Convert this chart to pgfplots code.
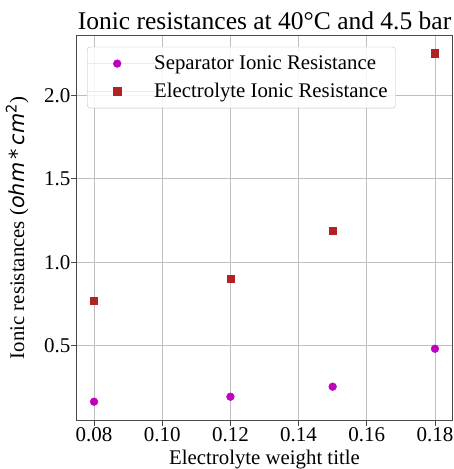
\documentclass[border=0pt]{standalone}
\usepackage{pgfplots}
\pgfplotsset{compat=1.18}
\usepackage{fontspec}
\setmainfont{Liberation Serif}
\newfontfamily\djv{DejaVu Sans}
\definecolor{sepc}{HTML}{BF00BF}
\definecolor{elc}{HTML}{B22222}
\definecolor{axc}{HTML}{4A4A4A}
\begin{document}
\begin{tikzpicture}
\begin{axis}[
  scale only axis, width=375pt, height=384pt,
  xmin=0.075, xmax=0.185, ymin=0.0555, ymax=2.3545,
  xtick={0.08,0.10,0.12,0.14,0.16,0.18},
  ytick={0.5,1.0,1.5,2.0},
  tick label style={font=\fontsize{21}{24}\selectfont},
  xticklabel style={/tikz/inner ysep=2pt, /pgf/number format/.cd, fixed, fixed zerofill, precision=2},
  yticklabel style={/tikz/inner xsep=1pt, /pgf/number format/.cd, fixed, fixed zerofill, precision=1},
  /pgf/number format/assume math mode=true,
  scaled ticks=false,
  grid=major, grid style={gray!50, line width=0.8pt},
  axis line style={axc, line width=1pt},
  tick align=outside, major tick length=5.5pt, tick style={axc, line width=0.8pt},
  xtick pos=lower, ytick pos=left,
  title={Ionic resistances at 40°C and 4.5 bar},
  title style={font=\fontsize{25.5}{28}\selectfont, yshift=-3pt},
  xlabel={Electrolyte weight title},
  ylabel={Ionic resistances ({\djv\itshape ohm\,*\,cm\textsuperscript{\upshape 2}})},
  label style={font=\fontsize{20.8}{24}\selectfont},
  xlabel style={yshift=-3pt},
  ylabel style={yshift=11pt},
  legend style={at={(rel axis cs:0.0267,0.972)}, anchor=north west, draw=gray!50, rounded corners=3pt,
    fill=white, fill opacity=0.85, text opacity=1, draw opacity=1,
    font=\fontsize{20.8}{24}\selectfont, row sep=12pt, inner xsep=0pt, inner ysep=9pt,
    nodes={inner sep=0pt}, column sep=0pt},
  legend cell align=left,
  legend image code/.code={\path (0pt,0pt) -- (67pt,0pt); \draw[#1, fill opacity=1, draw opacity=1] plot coordinates {(30pt,0pt)};},
]
\addplot[only marks, mark=*, mark size=3.9pt, color=sepc, draw=none, fill=sepc]
  coordinates {(0.08,0.165) (0.12,0.195) (0.15,0.255) (0.18,0.482)};
\addlegendentry{Separator Ionic Resistance}
\addplot[only marks, mark=square*, mark size=3.6pt, color=elc, draw=none, fill=elc]
  coordinates {(0.08,0.769) (0.12,0.900) (0.15,1.187) (0.18,2.251)};
\addlegendentry{Electrolyte Ionic Resistance\hspace*{8pt}}
\end{axis}
\pgfresetboundingbox
\path[use as bounding box] ([shift={(-77pt,-49pt)}]current axis.south west) rectangle ([shift={(2pt,36pt)}]current axis.north east);
\end{tikzpicture}
\end{document}
